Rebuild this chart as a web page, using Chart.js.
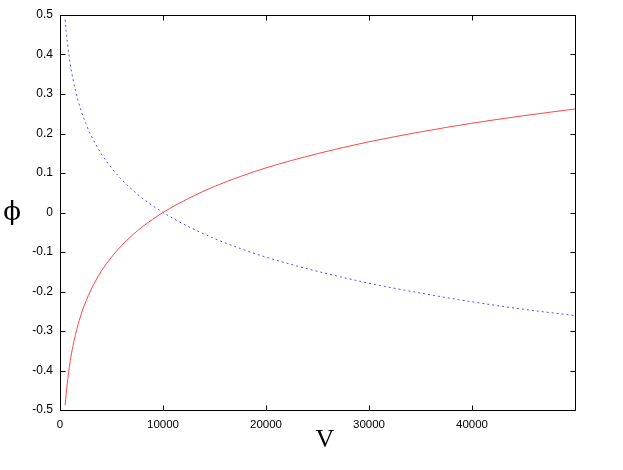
<!DOCTYPE html>
<html>
<head>
<meta charset="utf-8">
<script src="https://cdn.jsdelivr.net/npm/chart.js@4/dist/chart.umd.min.js"></script>
<style>
  body { margin: 0; background: #fff; }
</style>
</head>
<body>
<canvas id="c" width="623" height="470"></canvas>
<script>
// values
var vValues = [500, 600, 800, 1000, 1250, 1500, 2000, 2500, 3000, 4000, 5000, 6000, 7000, 8000,
  10000, 12500, 15000, 17500, 20000, 25000, 30000, 35000, 40000, 45000, 50000]
var redPhi = [-0.488, -0.459, -0.412, -0.375, -0.339, -0.309, -0.262, -0.226, -0.196, -0.149, -0.113, -0.083, -0.058, -0.036,
  0, 0.036, 0.066, 0.091, 0.113, 0.149, 0.179, 0.204, 0.226, 0.245, 0.262]
var bluePhi = [0.488, 0.459, 0.412, 0.375, 0.339, 0.309, 0.262, 0.226, 0.196, 0.149, 0.113, 0.083, 0.058, 0.036,
  0, -0.036, -0.066, -0.091, -0.113, -0.149, -0.179, -0.204, -0.226, -0.245, -0.261]
var xTicks = [0, 10000, 20000, 30000, 40000]
var yTicks = [-0.5, -0.4, -0.3, -0.2, -0.1, 0, 0.1, 0.2, 0.3, 0.4, 0.5]

function pts(ys) {
  return vValues.map(function(v, i) { return {x: v, y: ys[i]} })
}

// gnuplot-ish frame with inward ticks on every side, plus axis labels
var frame = {
  id: 'frame',
  afterDraw: function(chart) {
    var ctx = chart.ctx, a = chart.chartArea
    var xs = chart.scales.x, ys = chart.scales.y
    var L = Math.round(a.left) + 0.5, R = Math.round(a.right) + 0.5
    var T = Math.round(a.top) + 0.5, B = Math.round(a.bottom) + 0.5
    ctx.save()
    ctx.strokeStyle = '#000'
    ctx.lineWidth = 1
    ctx.beginPath()
    xTicks.forEach(function(v) {
      var p = Math.round(xs.getPixelForValue(v)) + 0.5
      ctx.moveTo(p, B); ctx.lineTo(p, B - 5)
      ctx.moveTo(p, T); ctx.lineTo(p, T + 5)
    })
    yTicks.forEach(function(v) {
      var p = Math.round(ys.getPixelForValue(v)) + 0.5
      ctx.moveTo(L, p); ctx.lineTo(L + 5, p)
      ctx.moveTo(R, p); ctx.lineTo(R - 5, p)
    })
    ctx.stroke()
    ctx.strokeRect(L, T, R - L, B - T)

    ctx.fillStyle = '#000'
    ctx.textAlign = 'center'
    ctx.textBaseline = 'middle'
    ctx.font = '26px "Liberation Serif"'
    ctx.fillText('V', 325, 440)
    ctx.font = '26px "DejaVu Serif"'
    ctx.fillText('\u03d5', 12, 213)
    ctx.restore()
  }
}

var chart = new Chart(document.getElementById('c'), {
  type: 'line',
  data: {
    datasets: [
      {
        data: pts(redPhi),
        borderColor: 'rgb(255,70,70)',
        borderWidth: 1,
        pointRadius: 0,
        cubicInterpolationMode: 'monotone'
      },
      {
        data: pts(bluePhi),
        borderColor: 'rgb(80,80,255)',
        borderWidth: 1,
        borderDash: [2, 3],
        pointRadius: 0,
        cubicInterpolationMode: 'monotone'
      }
    ]
  },
  options: {
    responsive: false,
    animation: false,
    layout: { padding: { top: 15, right: 48, left: 0, bottom: 0 } },
    plugins: { legend: { display: false }, tooltip: { enabled: false } },
    scales: {
      x: {
        type: 'linear',
        min: 0,
        max: 50000,
        afterFit: function(s) { s.height = 60 },
        afterBuildTicks: function(s) { s.ticks = xTicks.map(function(v) { return {value: v} }) },
        grid: { display: false, drawTicks: false },
        border: { display: false },
        ticks: {
          padding: 8,
          maxRotation: 0,
          autoSkip: false,
          color: '#000',
          font: { family: '"Liberation Sans"', size: 11.5 },
          callback: function(v) { return String(v) }
        }
      },
      y: {
        min: -0.5,
        max: 0.5,
        afterFit: function(s) { s.width = 60 },
        afterBuildTicks: function(s) { s.ticks = yTicks.map(function(v) { return {value: v} }) },
        grid: { display: false, drawTicks: false },
        border: { display: false },
        ticks: {
          padding: 7,
          color: '#000',
          font: { family: '"Liberation Sans"', size: 12 },
          callback: function(v) { return String(Math.round(v * 10) / 10) }
        }
      }
    }
  },
  plugins: [frame]
})
</script>
</body>
</html>
